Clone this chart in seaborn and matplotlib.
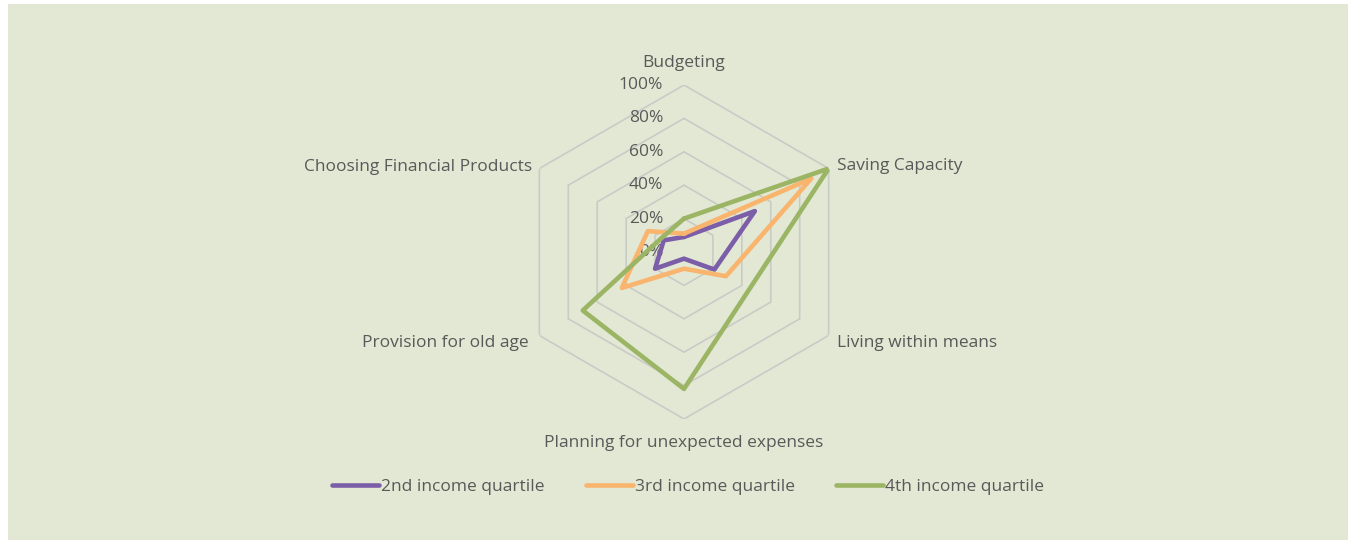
import numpy as np
import pandas as pd
import matplotlib.pyplot as plt
import seaborn as sns
from matplotlib.patches import Rectangle

# Data (share of respondents)
categories = ["Budgeting", "Saving Capacity", "Living within means",
              "Planning for unexpected expenses", "Provision for old age",
              "Choosing Financial Products"]
q2 = [0.09, 0.49, 0.21, 0.04, 0.20, 0.14]
q3 = [0.11, 0.88, 0.29, 0.10, 0.43, 0.25]
q4 = [0.20, 1.00, 0.45, 0.82, 0.70, 0.16]
series_names = ["2nd income quartile", "3rd income quartile", "4th income quartile"]
series_values = [q2, q3, q4]
colors = ["#7B5EA7", "#F9B46E", "#9BB565"]
r_ticks = [0.0, 0.2, 0.4, 0.6, 0.8, 1.0]
r_labels = ["0%", "20%", "40%", "60%", "80%", "100%"]

sns.set_theme(style="white")
plt.rcParams["font.family"] = ["Open Sans", "DejaVu Sans"]
text_color = "#595959"
bg = "#E3E8D4"
fs = 12.5

W, H = 1356, 544
fig = plt.figure(figsize=(W / 100, H / 100), dpi=100, facecolor="white")
fig.patches.append(Rectangle((8 / W, 4 / H), 1340 / W, 536 / H,
                             transform=fig.transFigure, facecolor=bg,
                             edgecolor="none", zorder=-1))

cx, cy, R = 684, 252, 167
ax = fig.add_axes([(cx - R) / W, (H - cy - R) / H, 2 * R / W, 2 * R / H],
                  projection="polar")
ax.set_facecolor("none")
ax.set_theta_zero_location("N")
ax.set_theta_direction(-1)
ax.set_ylim(0, 1)
ax.spines["polar"].set_visible(False)
ax.grid(False)
ax.set_xticks([])
ax.set_yticks([])

n = len(categories)
angles = np.linspace(0, 2 * np.pi, n, endpoint=False)
closed = np.append(angles, angles[0])

# hexagonal gridlines
for r in r_ticks[1:]:
    ax.plot(closed, [r] * (n + 1), color="#C9CBC6", lw=1.2, zorder=1)

rows = []
for name, vals in zip(series_names, series_values):
    vv = list(vals) + [vals[0]]
    for i, (a, v) in enumerate(zip(closed, vv)):
        rows.append({"series": name, "order": i, "angle": a, "value": v})
df = pd.DataFrame(rows)

sns.lineplot(data=df, x="angle", y="value", hue="series", palette=colors,
             sort=False, estimator=None, units="series", lw=3.3, ax=ax,
             zorder=3)
ax.set_xlabel("")
ax.set_ylabel("")

# radial labels along the top spoke
for r, lab in zip(r_ticks, r_labels):
    ax.annotate(lab, xy=(0, r), xytext=(-15, 0), textcoords="offset points",
                ha="right", va="center", fontsize=fs, color=text_color,
                zorder=2)

# category labels
offsets = [(0, 16, "center"), (6, 2, "left"), (6, -5.5, "left"),
           (0, -17, "center"), (-8, -5.5, "right"), (-5, 1, "right")]
for a, lab, (dx, dy, ha) in zip(angles, categories, offsets):
    ax.annotate(lab, xy=(a, 1.0), xytext=(dx, dy), textcoords="offset points",
                ha=ha, va="center", fontsize=fs, color=text_color)

leg = ax.legend(loc="center", bbox_to_anchor=(688 / W, (H - 487) / H),
                bbox_transform=fig.transFigure, ncol=3, frameon=False,
                fontsize=fs, handlelength=2.7, handletextpad=0.1,
                columnspacing=2.4, labelcolor=text_color)

fig.savefig("out.png", dpi=100, facecolor="white")
